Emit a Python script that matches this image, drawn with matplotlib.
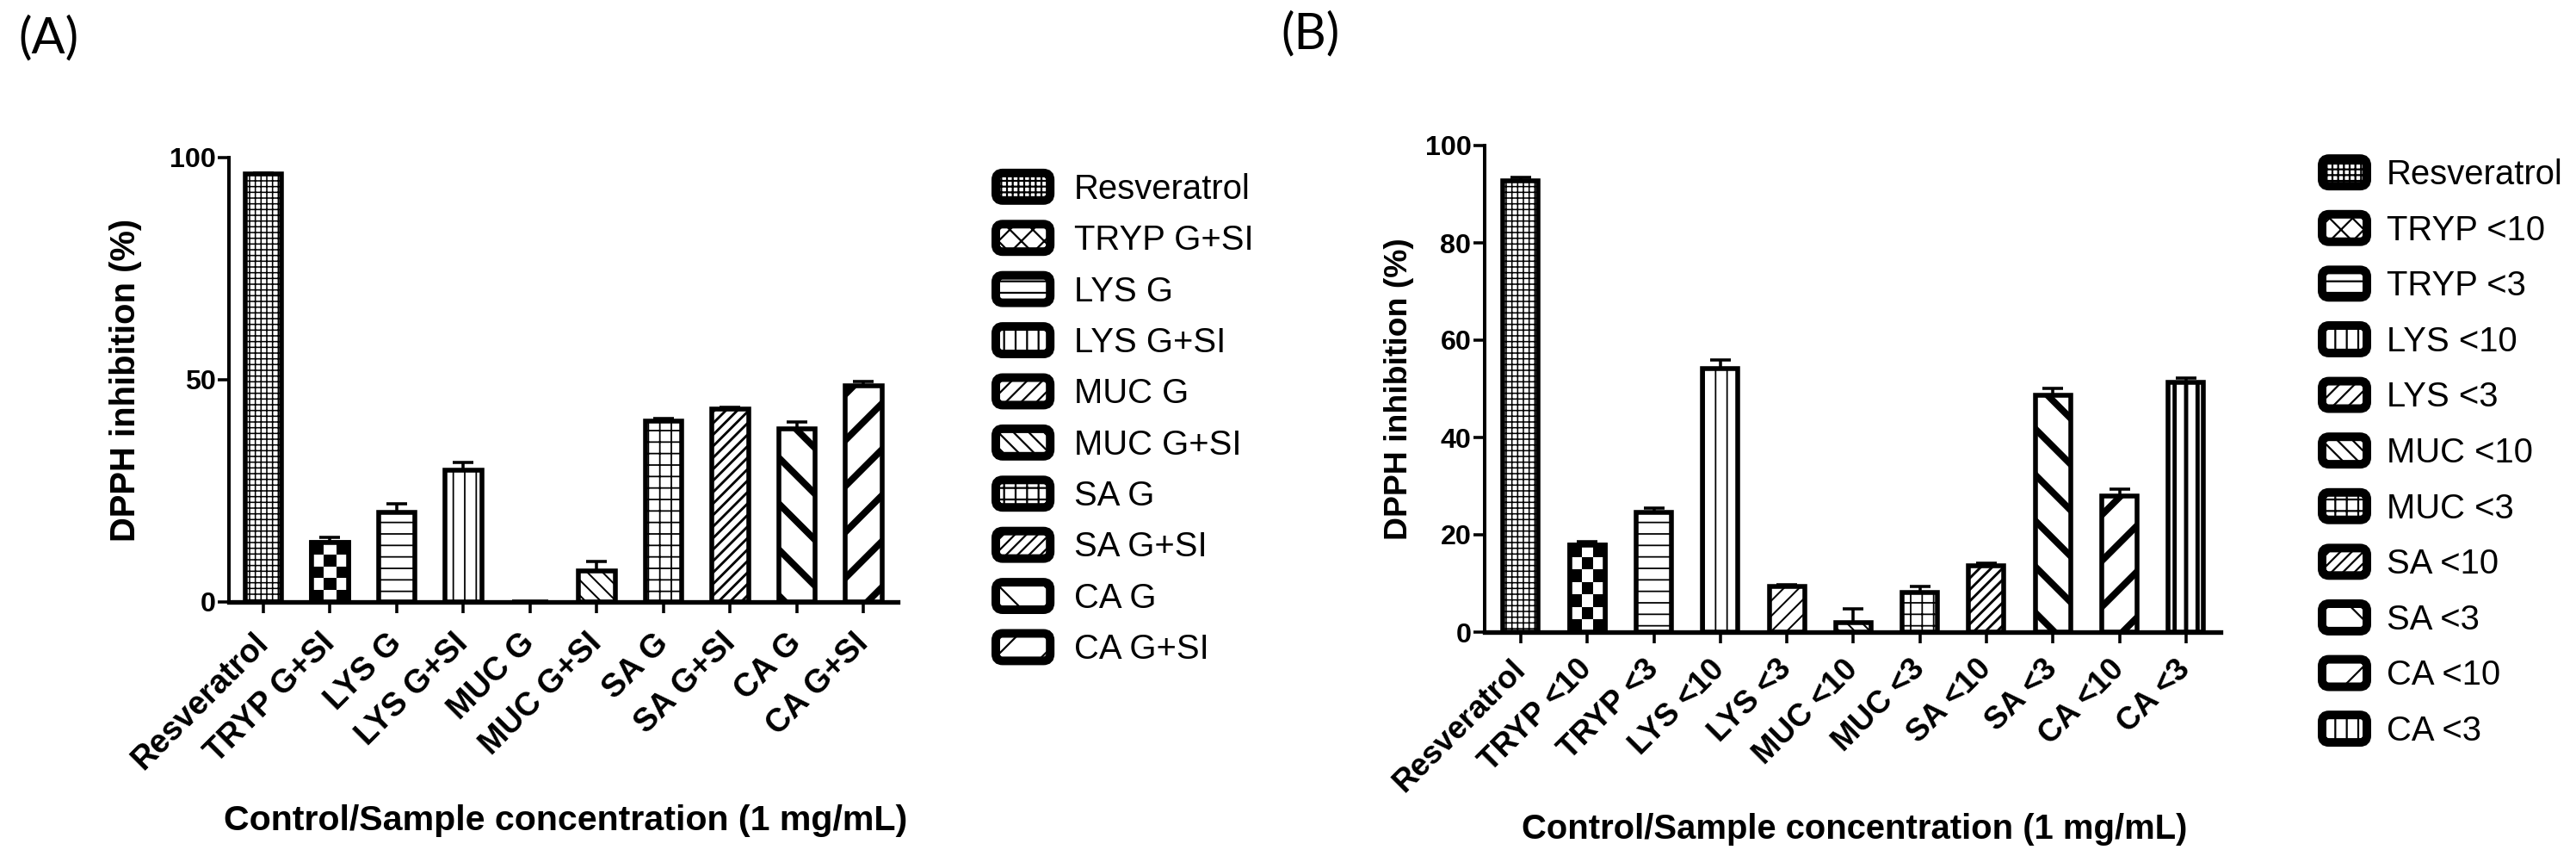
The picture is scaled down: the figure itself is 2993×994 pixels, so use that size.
import numpy as np
import matplotlib.pyplot as plt
from matplotlib.patches import Patch, FancyBboxPatch
from matplotlib.legend_handler import HandlerPatch

plt.rcParams['font.family'] = ['Liberation Sans', 'DejaVu Sans']

DPI = 160

# ---- data ----
labels_a = ['Resveratrol', 'TRYP G+SI', 'LYS G', 'LYS G+SI', 'MUC G',
            'MUC G+SI', 'SA G', 'SA G+SI', 'CA G', 'CA G+SI']
values_a = [96.3, 13.3, 20.2, 29.6, 0.0, 6.9, 40.7, 43.5, 38.9, 48.6]
errors_a = [0.3, 1.2, 1.8, 1.7, 0.0, 2.2, 0.5, 0.3, 1.6, 1.0]

labels_b = ['Resveratrol', 'TRYP <10', 'TRYP <3', 'LYS <10', 'LYS <3',
            'MUC <10', 'MUC <3', 'SA <10', 'SA <3', 'CA <10', 'CA <3']
values_b = [92.8, 17.9, 24.6, 54.2, 9.3, 1.9, 8.2, 13.6, 48.7, 28.0, 51.4]
errors_b = [0.6, 0.7, 0.9, 1.7, 0.5, 2.9, 1.1, 0.5, 1.4, 1.4, 0.9]

yticks_a = [0, 50, 100]
yticks_b = [0, 20, 40, 60, 80, 100]

# fill patterns: name -> (hatch, hatch linewidth)
STYLES = {
    'fine': ('++++', 0.7),
    'checker': ('xx', 2.0),      # legend only, bars get a real checkerboard
    'hline': ('--', 0.8),
    'vline': ('||', 0.8),
    'diag_f': ('///', 0.9),
    'diag_b': ('\\\\\\', 0.9),
    'grid': ('++', 0.8),
    'dash': ('////', 1.3),
    'wide_b': ('\\', 3.5),
    'wide_f': ('/', 3.5),
    'bold_v': ('||', 2.2),
}
styles_a = ['fine', 'checker', 'hline', 'vline', 'diag_f', 'diag_b',
            'grid', 'dash', 'wide_b', 'wide_f']
styles_b = ['fine', 'checker', 'hline', 'vline', 'diag_f', 'diag_b',
            'grid', 'dash', 'wide_b', 'wide_f', 'bold_v']


def set_hlw(patch, lw):
    if hasattr(patch, 'set_hatch_linewidth'):
        patch.set_hatch_linewidth(lw)


def add_checker(ax, bar):
    # checkerboard texture clipped to the bar
    x0, w, h = bar.get_x(), bar.get_width(), bar.get_height()
    if h <= 0:
        return
    p0 = ax.transData.transform((x0, 0))
    p1 = ax.transData.transform((x0 + w, h))
    side = (p1[0] - p0[0]) / 3.0
    nrows = max(1, int(round((p1[1] - p0[1]) / side)))
    board = np.indices((nrows, 3)).sum(axis=0) % 2
    im = ax.imshow(board, cmap='gray', extent=(x0, x0 + w, 0, h),
                   aspect='auto', interpolation='nearest', zorder=2.5)
    im.set_clip_path(bar)
    ax.bar(x0 + w / 2, h, w, facecolor='none', edgecolor='black',
           linewidth=2.5, zorder=3)


def draw_panel(ax, labels, values, errors, styles, width, xlim, yticks,
               xt_size, xt_pad, yl_size, yl_x, xl_y, xl_size):
    x = np.arange(len(labels))
    ax.set_xlim(*xlim)
    ax.set_ylim(0, 100)
    bars = []
    for xi, v, s in zip(x, values, styles):
        hatch, hlw = STYLES[s]
        with plt.rc_context({'hatch.linewidth': hlw}):
            b = ax.bar(xi, v, width, facecolor='white', edgecolor='black',
                       linewidth=2.5, hatch=None if s == 'checker' else hatch,
                       zorder=2)[0]
        set_hlw(b, hlw)
        bars.append(b)
    for b, s in zip(bars, styles):
        if s == 'checker':
            add_checker(ax, b)
    ax.errorbar(x, values, yerr=[np.zeros(len(values)), errors], fmt='none',
                ecolor='black', elinewidth=1.6, capsize=5.5, capthick=1.6,
                zorder=4)

    ax.spines['top'].set_visible(False)
    ax.spines['right'].set_visible(False)
    ax.spines['left'].set_linewidth(1.8)
    ax.spines['bottom'].set_linewidth(2.4)
    ax.set_yticks(yticks)
    ax.set_yticklabels([str(t) for t in yticks], fontweight='bold',
                       fontsize=14.5)
    ax.tick_params(axis='y', length=6, width=1.6, pad=1)
    ax.tick_params(axis='x', length=6, width=1.6, pad=xt_pad)
    ax.set_xticks(x)
    ax.set_xticklabels(labels, rotation=45, ha='right', va='center',
                       rotation_mode='anchor', fontweight='bold',
                       fontsize=xt_size)
    ax.set_ylabel('DPPH inhibition (%)', fontweight='bold', fontsize=yl_size)
    ax.yaxis.set_label_coords(yl_x, 0.5)
    ax.set_xlabel('Control/Sample concentration (1 mg/mL)', fontweight='bold',
                  fontsize=xl_size)
    ax.xaxis.set_label_coords(0.503, xl_y)


def round_box(legend, orig_handle, xdescent, ydescent, width, height, fontsize):
    return FancyBboxPatch((-xdescent, -ydescent), width, height,
                          boxstyle='round,pad=0,rounding_size=%g' % (0.25 * height))


def add_legend(fig, labels, styles, anchor, hlen, spacing, textpad):
    handles = []
    for s in styles:
        hatch, hlw = STYLES[s]
        with plt.rc_context({'hatch.linewidth': hlw}):
            p = Patch(facecolor='white', edgecolor='black', linewidth=4.5,
                      hatch=hatch)
        set_hlw(p, hlw)
        handles.append(p)
    fig.legend(handles, labels, loc='center left', bbox_to_anchor=anchor,
               frameon=False, fontsize=18, handlelength=hlen,
               handleheight=0.85, handletextpad=textpad, labelspacing=spacing,
               borderpad=0, borderaxespad=0,
               handler_map={Patch: HandlerPatch(patch_func=round_box)})


W, H = 2993, 994
fig = plt.figure(figsize=(W / DPI, H / DPI), dpi=DPI)

ax_a = fig.add_axes([266 / W, 1 - 699 / H, (1043 - 266) / W, (699 - 183) / H])
draw_panel(ax_a, labels_a, values_a, errors_a, styles_a, 0.55,
           (-0.516, 9.51), yticks_a, 17, 13, 18, -0.130, -0.455, 18.5)

ax_b = fig.add_axes([1725 / W, 1 - 734 / H, (2580 - 1725) / W, (734 - 169) / H])
draw_panel(ax_b, labels_b, values_b, errors_b, styles_b, 0.53,
           (-0.543, 10.52), yticks_b, 16.5, 11, 16.8, -0.096, -0.372, 18)

add_legend(fig, labels_a, styles_a, (1157 / W, 1 - 487 / H), 1.58, 0.535, 0.7)
add_legend(fig, labels_b, styles_b, (2698 / W, 1 - 526 / H), 1.3, 0.665, 0.58)

fig.text(21 / W, 1 - 18 / H, '(A)', fontsize=26, family=['Lato', 'DejaVu Sans'],
         va='top', ha='left')
fig.text(1488 / W, 1 - 13 / H, '(B)', fontsize=26, family=['Lato', 'DejaVu Sans'],
         va='top', ha='left')

fig.savefig('out.png', dpi=DPI, facecolor='white')
